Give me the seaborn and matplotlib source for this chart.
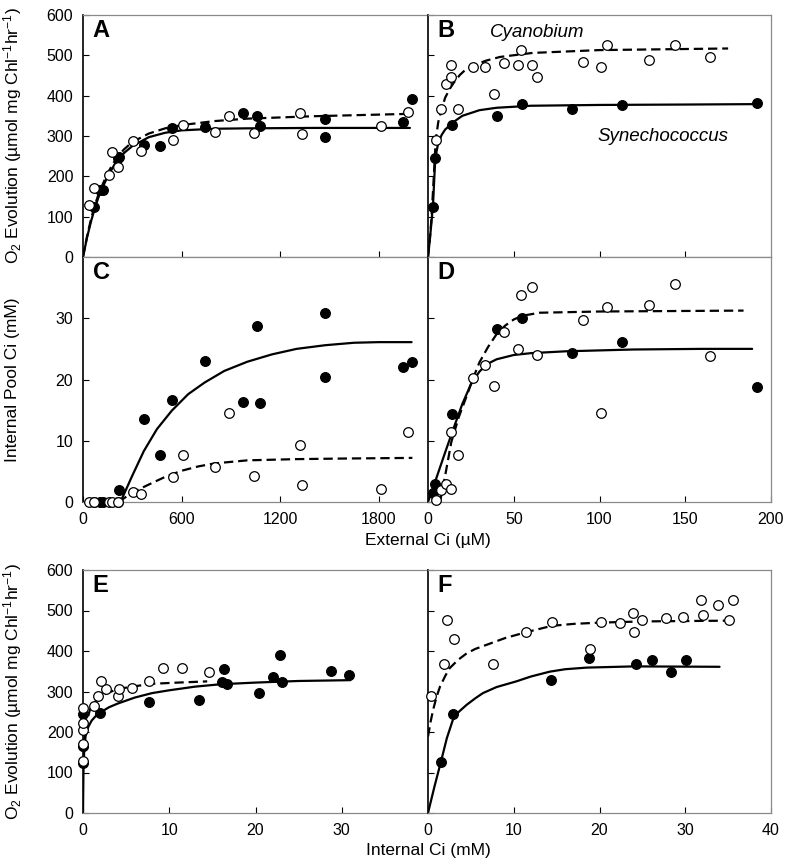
import matplotlib.pyplot as plt
import seaborn as sns

# ---------- left column (A, C, E): external Ci 0-2000 uM ----------
syn_ext_lo = [67, 106, 122, 215, 222, 370, 468, 543, 742, 976, 1058, 1080, 1475, 1475, 1947, 2000]
syn_o2_lo = [124, 165, 165, 245, 247, 278, 274, 319, 323, 356, 350, 324, 341, 297, 335, 391]
syn_pool_lo = [0, 0, 0, 0, 2.0, 13.5, 7.6, 16.7, 23.1, 16.3, 28.75, 16.1, 30.8, 20.4, 22.0, 22.8]

cya_ext_lo = [35, 69, 157, 177, 214, 305, 350, 545, 606, 803, 891, 1041, 1322, 1332, 1812, 1981]
cya_o2_lo = [128, 171, 204, 260, 222, 288, 263, 290, 327, 309, 349, 307, 357, 306, 326, 359]
cya_pool_lo = [0, 0, 0, 0, 0, 1.7, 1.3, 4.1, 7.6, 5.7, 14.6, 4.2, 9.3, 2.7, 2.1, 11.5]

# ---------- right column (B, D, F): external Ci 0-200 uM ----------
syn_ext_hi = [3.1, 4.3, 14.2, 40.1, 54.8, 84.0, 113.0, 192.0]
syn_o2_hi = [125, 245, 328, 349, 379, 368, 378, 383]
syn_pool_hi = [1.5, 2.9, 14.4, 28.3, 30.1, 24.3, 26.1, 18.8]

cya_ext_hi = [4.5, 7.6, 10.7, 13.6, 13.6, 17.5, 26.3, 33.1, 38.4, 44.6, 52.2, 54.0, 60.8, 63.3,
              90.6, 100.6, 104.3, 129.0, 144.0, 164.7]
cya_o2_hi = [290, 368, 429, 477, 447, 368, 471, 470, 405, 482, 477, 513, 477, 447,
             483, 471, 525, 489, 525, 495]
cya_pool_hi = [0.3, 1.9, 3.0, 2.2, 11.4, 7.6, 20.2, 22.4, 18.9, 27.8, 24.9, 33.8, 35.1, 24.0,
               29.7, 14.5, 31.8, 32.1, 35.6, 23.9]

# ---------- fitted curves ----------
fit_a_syn_x = [0, 25, 50, 75, 100, 150, 200, 250, 300, 400, 500, 600, 800, 1000, 1400, 1990]
fit_a_syn_y = [0, 49, 90, 125, 155, 200, 235, 258, 275, 297, 308, 314, 318, 319, 320, 320]
fit_a_cya_x = [0, 25, 50, 75, 100, 150, 200, 250, 300, 400, 500, 600, 800, 1000, 1400, 1995]
fit_a_cya_y = [0, 52, 96, 132, 162, 208, 243, 267, 285, 306, 319, 327, 337, 343, 349, 355]

fit_b_syn_x = [0, 1, 2, 3, 4, 5, 6, 8, 10, 15, 20, 30, 40, 60, 100, 150, 190]
fit_b_syn_y = [0, 40, 85, 135, 225, 262, 283, 303, 316, 335, 350, 364, 370, 375, 377, 378, 379]
fit_b_cya_x = [0, 1, 2, 3, 4.5, 6, 7.8, 10, 12.7, 15, 18.5, 22, 26.3, 34, 42, 61, 100, 175]
fit_b_cya_y = [0, 40, 95, 170, 290, 335, 364, 395, 417, 432, 451, 465, 475, 487, 496, 506, 513, 517]

fit_c_syn_x = [228, 300, 370, 450, 540, 640, 740, 860, 1000, 1150, 1300, 1475, 1650, 1800, 2000]
fit_c_syn_y = [0, 4.3, 8.3, 11.9, 14.9, 17.6, 19.5, 21.4, 22.9, 24.1, 25.0, 25.6, 26.0, 26.1, 26.1]
fit_c_cya_x = [217, 260, 300, 350, 420, 500, 600, 700, 800, 1000, 1300, 1600, 2005]
fit_c_cya_y = [0, 0.8, 1.5, 2.2, 3.1, 4.1, 5.1, 5.8, 6.3, 6.8, 7.0, 7.1, 7.2]

fit_d_syn_x = [0, 5, 10, 15, 20, 25, 30, 35, 40, 50, 60, 80, 120, 160, 189]
fit_d_syn_y = [0, 4.0, 8.1, 12.1, 16.0, 19.2, 21.3, 22.6, 23.3, 24.0, 24.3, 24.6, 24.9, 25.0, 25.0]
fit_d_cya_x = [7, 10, 13.6, 18, 22.4, 26, 30, 35, 40, 45, 50, 55, 65, 100, 184]
fit_d_cya_y = [0, 4.3, 9.8, 13.9, 17.2, 20.0, 22.8, 25.3, 27.4, 28.8, 29.8, 30.4, 30.9, 31.1, 31.25]

fit_e_syn_x = [0, 0.05, 0.15, 0.3, 0.6, 1, 1.5, 2, 3, 4, 6, 8, 10, 13, 16, 20, 25, 31]
fit_e_syn_y = [0, 100, 160, 190, 212, 228, 240, 248, 261, 270, 285, 296, 303, 312, 318, 322, 326, 328]
fit_e_cya_x = [0.1, 0.3, 0.5, 0.8, 1.2, 1.6, 2.2, 2.8, 4, 6, 8, 11, 14.4]
fit_e_cya_y = [170, 205, 230, 255, 268, 280, 290, 296, 306, 313, 319, 322, 325]

fit_f_syn_x = [0, 0.75, 1.5, 2.2, 2.9, 3.6, 4.5, 5.5, 6.4, 8, 10.3, 12, 14.2, 16, 18.5, 24, 34]
fit_f_syn_y = [0, 65, 126, 185, 230, 250, 267, 283, 296, 311, 325, 337, 349, 355, 359, 362, 361]
fit_f_cya_x = [0, 0.3, 0.6, 1, 1.4, 2, 2.5, 3.5, 4.5, 5.5, 6.8, 9, 11.2, 14.4, 17, 20, 25, 30, 35.6]
fit_f_cya_y = [189, 225, 255, 287, 312, 338, 357, 378, 394, 405, 415, 432, 445, 462, 467, 470, 473, 474, 475]

o2_ticks = [0, 100, 200, 300, 400, 500, 600]
pool_ticks = [0, 10, 20, 30]

sns.set_theme(style='white')
plt.rcParams['font.family'] = ['Liberation Sans', 'DejaVu Sans']
plt.rcParams['mathtext.default'] = 'regular'
plt.rcParams['lines.dashed_pattern'] = [4.2, 2.2]
for key in ['text.color', 'axes.labelcolor', 'xtick.color', 'ytick.color']:
    plt.rcParams[key] = 'black'

W, H = 787, 867
fig = plt.figure(figsize=(W / 100, H / 100), dpi=100)


def px_axes(x0, y0, x1, y1):
    return fig.add_axes([x0 / W, 1 - y1 / H, (x1 - x0) / W, (y1 - y0) / H])


def panel(ax, syn_x, syn_y, cya_x, cya_y, fit_syn, fit_cya):
    sns.lineplot(x=fit_syn[0], y=fit_syn[1], ax=ax, color='black', lw=1.6,
                 estimator=None, sort=False)
    sns.lineplot(x=fit_cya[0], y=fit_cya[1], ax=ax, color='black', lw=1.6, ls='--',
                 estimator=None, sort=False)
    sns.scatterplot(x=syn_x, y=syn_y, ax=ax, color='black', edgecolor='black',
                    s=50, linewidth=0.8, zorder=3, clip_on=False)
    sns.scatterplot(x=cya_x, y=cya_y, ax=ax, color='white', edgecolor='black',
                    s=48, linewidth=0.9, zorder=4, clip_on=False)


def style(ax, xlim, xticks, ylim, yticks, letter, xlab=True, ylab=True):
    ax.set_xlim(xlim)
    ax.set_ylim(ylim)
    ax.set_xticks(xticks)
    ax.set_yticks(yticks)
    if not xlab:
        ax.set_xticklabels([])
    if not ylab:
        ax.set_yticklabels([])
    ax.set_xlabel('')
    ax.set_ylabel('')
    ax.tick_params(direction='in', length=4, width=0.8, color='black', labelcolor='black',
                   labelsize=11.5, pad=7, bottom=True, left=True)
    for side in ['top', 'right', 'bottom']:
        ax.spines[side].set_color('#8a8a8a')
        ax.spines[side].set_linewidth(0.9)
    ax.spines['left'].set_color('black')
    ax.spines['left'].set_linewidth(1.2)
    ax.text(0.028, 0.935, letter, transform=ax.transAxes, fontsize=17,
            fontweight='bold', va='center', ha='left')


ax_a = px_axes(83, 15, 428, 257)
ax_b = px_axes(428, 15, 771, 257)
ax_c = px_axes(83, 257, 428, 502)
ax_d = px_axes(428, 257, 771, 502)
ax_e = px_axes(83, 570, 428, 813)
ax_f = px_axes(428, 570, 771, 813)

panel(ax_a, syn_ext_lo, syn_o2_lo, cya_ext_lo, cya_o2_lo,
      (fit_a_syn_x, fit_a_syn_y), (fit_a_cya_x, fit_a_cya_y))
panel(ax_b, syn_ext_hi, syn_o2_hi, cya_ext_hi, cya_o2_hi,
      (fit_b_syn_x, fit_b_syn_y), (fit_b_cya_x, fit_b_cya_y))
panel(ax_c, syn_ext_lo, syn_pool_lo, cya_ext_lo, cya_pool_lo,
      (fit_c_syn_x, fit_c_syn_y), (fit_c_cya_x, fit_c_cya_y))
panel(ax_d, syn_ext_hi, syn_pool_hi, cya_ext_hi, cya_pool_hi,
      (fit_d_syn_x, fit_d_syn_y), (fit_d_cya_x, fit_d_cya_y))
panel(ax_e, syn_pool_lo, syn_o2_lo, cya_pool_lo, cya_o2_lo,
      (fit_e_syn_x, fit_e_syn_y), (fit_e_cya_x, fit_e_cya_y))
panel(ax_f, syn_pool_hi, syn_o2_hi, cya_pool_hi, cya_o2_hi,
      (fit_f_syn_x, fit_f_syn_y), (fit_f_cya_x, fit_f_cya_y))

style(ax_a, (0, 2100), [600, 1200, 1800], (0, 600), o2_ticks, 'A', xlab=False)
style(ax_b, (0, 200), [50, 100, 150], (0, 600), o2_ticks, 'B', xlab=False, ylab=False)
style(ax_c, (0, 2100), [0, 600, 1200, 1800], (0, 40), pool_ticks, 'C')
style(ax_d, (0, 200), [0, 50, 100, 150, 200], (0, 40), pool_ticks, 'D', ylab=False)
style(ax_e, (0, 40), [0, 10, 20, 30], (0, 600), o2_ticks, 'E')
style(ax_f, (0, 40), [0, 10, 20, 30, 40], (0, 600), o2_ticks, 'F', ylab=False)

ax_b.text(0.181, 0.926, 'Cyanobium', transform=ax_b.transAxes, fontsize=13.5,
          style='italic', va='center', ha='left')
ax_b.text(0.493, 0.496, 'Synechococcus', transform=ax_b.transAxes, fontsize=13.5,
          style='italic', va='center', ha='left')

o2_label = 'O$_2$ Evolution (\u00b5mol mg Chl$^{-1}$hr$^{-1}$)'
fig.text(13 / W, 1 - 136 / H, o2_label, rotation=90, fontsize=12.5, ha='center', va='center')
fig.text(13 / W, 1 - 380 / H, 'Internal Pool Ci (mM)', rotation=90, fontsize=12.5,
         ha='center', va='center')
fig.text(13 / W, 1 - 692 / H, o2_label, rotation=90, fontsize=12.5, ha='center', va='center')
fig.text(428 / W, 1 - 540 / H, 'External Ci (\u00b5M)', fontsize=12.5, ha='center', va='center')
fig.text(428 / W, 1 - 851 / H, 'Internal Ci (mM)', fontsize=12.5, ha='center', va='center')

fig.savefig('out.png', dpi=100)
